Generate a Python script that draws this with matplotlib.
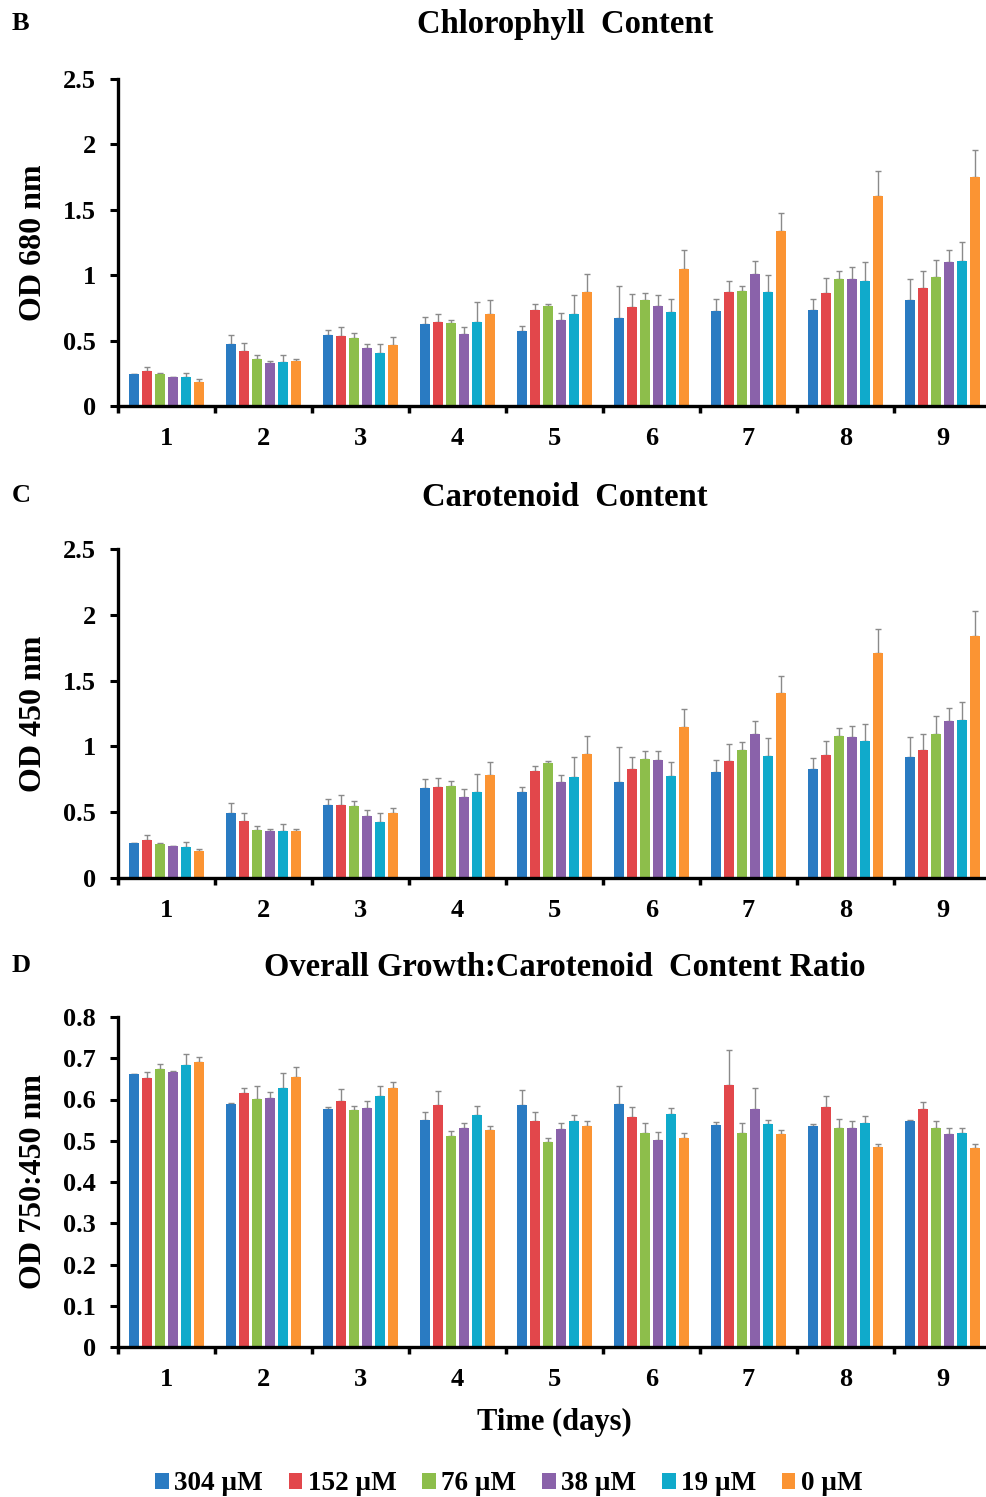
import matplotlib
matplotlib.use("Agg")
import matplotlib.pyplot as plt
import numpy as np
from matplotlib.ticker import FixedLocator, NullFormatter, FixedFormatter

plt.rcParams['font.family'] = ['Liberation Serif', 'DejaVu Serif']
plt.rcParams['font.weight'] = 'bold'

days = [1, 2, 3, 4, 5, 6, 7, 8, 9]
series = ["304 \u00b5M", "152 \u00b5M", "76 \u00b5M", "38 \u00b5M", "19 \u00b5M", "0 \u00b5M"]
colors = ["#2A7BC2", "#E2474B", "#8DBE4B", "#8A62AA", "#10AACB", "#FB9433"]

# Chlorophyll (OD 680) means per series over days 1..9
chl_304 = [0.242, 0.471, 0.543, 0.624, 0.573, 0.675, 0.726, 0.731, 0.813]
chl_152 = [0.265, 0.420, 0.535, 0.640, 0.731, 0.754, 0.869, 0.861, 0.900]
chl_76  = [0.245, 0.360, 0.522, 0.632, 0.765, 0.810, 0.879, 0.971, 0.986]
chl_38  = [0.220, 0.329, 0.443, 0.550, 0.655, 0.767, 1.012, 0.971, 1.098]
chl_19  = [0.224, 0.339, 0.408, 0.640, 0.703, 0.719, 0.869, 0.958, 1.108]
chl_0   = [0.186, 0.347, 0.469, 0.706, 0.874, 1.047, 1.338, 1.605, 1.753]
chl_304_err = [0.005, 0.070, 0.035, 0.056, 0.041, 0.245, 0.094, 0.089, 0.158]
chl_152_err = [0.035, 0.064, 0.070, 0.061, 0.051, 0.102, 0.089, 0.118, 0.130]
chl_76_err  = [0.010, 0.033, 0.036, 0.028, 0.018, 0.051, 0.041, 0.059, 0.130]
chl_38_err  = [0.005, 0.015, 0.034, 0.056, 0.053, 0.079, 0.099, 0.089, 0.092]
chl_19_err  = [0.030, 0.051, 0.064, 0.158, 0.146, 0.100, 0.133, 0.140, 0.143]
chl_0_err   = [0.020, 0.013, 0.059, 0.102, 0.135, 0.143, 0.135, 0.194, 0.206]

# Carotenoid (OD 450)
car_304 = [0.263, 0.493, 0.557, 0.681, 0.653, 0.729, 0.807, 0.830, 0.916]
car_152 = [0.286, 0.435, 0.557, 0.688, 0.810, 0.825, 0.886, 0.934, 0.974]
car_76  = [0.258, 0.367, 0.549, 0.701, 0.873, 0.903, 0.974, 1.078, 1.096]
car_38  = [0.240, 0.359, 0.473, 0.617, 0.729, 0.896, 1.096, 1.073, 1.194]
car_19  = [0.235, 0.359, 0.423, 0.653, 0.764, 0.772, 0.929, 1.040, 1.197]
car_0   = [0.202, 0.357, 0.493, 0.779, 0.946, 1.146, 1.409, 1.708, 1.840]
car_304_err = [0.005, 0.076, 0.043, 0.071, 0.040, 0.265, 0.091, 0.081, 0.154]
car_152_err = [0.038, 0.061, 0.071, 0.069, 0.040, 0.094, 0.136, 0.108, 0.122]
car_76_err  = [0.005, 0.028, 0.038, 0.033, 0.015, 0.061, 0.056, 0.063, 0.134]
car_38_err  = [0.005, 0.015, 0.041, 0.059, 0.053, 0.068, 0.096, 0.083, 0.099]
car_19_err  = [0.040, 0.048, 0.068, 0.134, 0.157, 0.106, 0.134, 0.132, 0.139]
car_0_err   = [0.020, 0.013, 0.036, 0.102, 0.132, 0.139, 0.129, 0.182, 0.190]

# Ratio (OD 750:450)
rat_304 = [0.661, 0.589, 0.577, 0.551, 0.586, 0.588, 0.538, 0.535, 0.548]
rat_152 = [0.653, 0.616, 0.597, 0.586, 0.548, 0.558, 0.634, 0.581, 0.577]
rat_76  = [0.675, 0.601, 0.574, 0.511, 0.496, 0.518, 0.518, 0.531, 0.530]
rat_38  = [0.666, 0.603, 0.579, 0.530, 0.528, 0.501, 0.577, 0.532, 0.517]
rat_19  = [0.683, 0.628, 0.608, 0.562, 0.549, 0.565, 0.540, 0.544, 0.518]
rat_0   = [0.690, 0.654, 0.629, 0.525, 0.535, 0.507, 0.516, 0.484, 0.482]
rat_304_err = [0.002, 0.002, 0.006, 0.018, 0.037, 0.045, 0.008, 0.006, 0.002]
rat_152_err = [0.013, 0.011, 0.028, 0.035, 0.022, 0.025, 0.085, 0.027, 0.018]
rat_76_err  = [0.012, 0.031, 0.011, 0.013, 0.010, 0.026, 0.024, 0.021, 0.019]
rat_38_err  = [0.004, 0.014, 0.018, 0.014, 0.015, 0.020, 0.052, 0.017, 0.015]
rat_19_err  = [0.028, 0.036, 0.025, 0.022, 0.014, 0.015, 0.011, 0.015, 0.014]
rat_0_err   = [0.013, 0.026, 0.014, 0.011, 0.014, 0.011, 0.009, 0.009, 0.011]

panels = [
    dict(letter="B", title="Chlorophyll  Content", ylabel="OD 680 nm",
         vals=[chl_304, chl_152, chl_76, chl_38, chl_19, chl_0],
         errs=[chl_304_err, chl_152_err, chl_76_err, chl_38_err, chl_19_err, chl_0_err],
         ylim=2.5, yticks=[0, 0.5, 1, 1.5, 2, 2.5], top=79, bottom=406, title_y=25, letter_y=23),
    dict(letter="C", title="Carotenoid  Content", ylabel="OD 450 nm",
         vals=[car_304, car_152, car_76, car_38, car_19, car_0],
         errs=[car_304_err, car_152_err, car_76_err, car_38_err, car_19_err, car_0_err],
         ylim=2.5, yticks=[0, 0.5, 1, 1.5, 2, 2.5], top=549, bottom=878, title_y=497, letter_y=496),
    dict(letter="D", title="Overall Growth:Carotenoid  Content Ratio", ylabel="OD 750:450 nm",
         vals=[rat_304, rat_152, rat_76, rat_38, rat_19, rat_0],
         errs=[rat_304_err, rat_152_err, rat_76_err, rat_38_err, rat_19_err, rat_0_err],
         ylim=0.8, yticks=[0, 0.1, 0.2, 0.3, 0.4, 0.5, 0.6, 0.7, 0.8], top=1017, bottom=1347, title_y=967, letter_y=965),
]

W, H = 986, 1497
fig = plt.figure(figsize=(W / 100, H / 100), dpi=100)

left_px, right_px = 118, 991
pitch = 0.134
width = 0.103
x = np.array(days, dtype=float)

for p in panels:
    ax = fig.add_axes([left_px / W, 1 - p["bottom"] / H, (right_px - left_px) / W, (p["bottom"] - p["top"]) / H])
    for i, (v, e, c) in enumerate(zip(p["vals"], p["errs"], colors)):
        xs = x + (i - 2.5) * pitch
        ax.bar(xs, v, width=width, color=c, label=series[i], zorder=2)
        ax.errorbar(xs, v, yerr=[np.zeros(len(e)), e], fmt="none", ecolor="#8a8a8a",
                    elinewidth=1.0, capsize=2.5, capthick=1.0, zorder=1)
    ax.set_xlim(0.5, 9.5)
    ax.set_ylim(0, p["ylim"])
    ax.set_yticks(p["yticks"])
    ax.set_yticklabels(["{:g}".format(t) for t in p["yticks"]], fontsize=19, fontweight="bold")
    ax.xaxis.set_major_locator(FixedLocator(np.arange(0.5, 10, 1)))
    ax.xaxis.set_major_formatter(NullFormatter())
    ax.xaxis.set_minor_locator(FixedLocator(days))
    ax.xaxis.set_minor_formatter(FixedFormatter([str(d) for d in days]))
    ax.tick_params(axis="x", which="minor", length=0, labelsize=19, pad=15)
    ax.tick_params(axis="x", which="major", length=5, width=2.5, direction="out")
    ax.tick_params(axis="y", length=6, width=2.2, direction="out", pad=10)
    for lab in ax.get_xticklabels(minor=True):
        lab.set_fontweight("bold")
    for s in ["top", "right"]:
        ax.spines[s].set_visible(False)
    for s in ["left", "bottom"]:
        ax.spines[s].set_linewidth(2.4)
    ax.set_ylabel(p["ylabel"], fontsize=23, fontweight="bold")
    ax.yaxis.set_label_coords(-70 / (right_px - left_px), 0.5)
    fig.text(565 / W, 1 - p["title_y"] / H, p["title"], ha="center", va="center",
             fontsize=23.5, fontweight="bold")
    fig.text(12 / W, 1 - p["letter_y"] / H, p["letter"], ha="left", va="center",
             fontsize=19, fontweight="bold")
    last_ax = ax

last_ax.set_xlabel("Time (days)", fontsize=22, fontweight="bold", labelpad=12)

handles, labels = last_ax.get_legend_handles_labels()
fig.legend(handles, labels, loc="center", bbox_to_anchor=(509 / W, 1 - 1484 / H), ncol=6,
           frameon=False, handlelength=0.5, handleheight=0.5,
           handletextpad=0.2, columnspacing=0.95, prop=dict(weight="bold", size=19.5))

fig.savefig("out.png", dpi=100)
